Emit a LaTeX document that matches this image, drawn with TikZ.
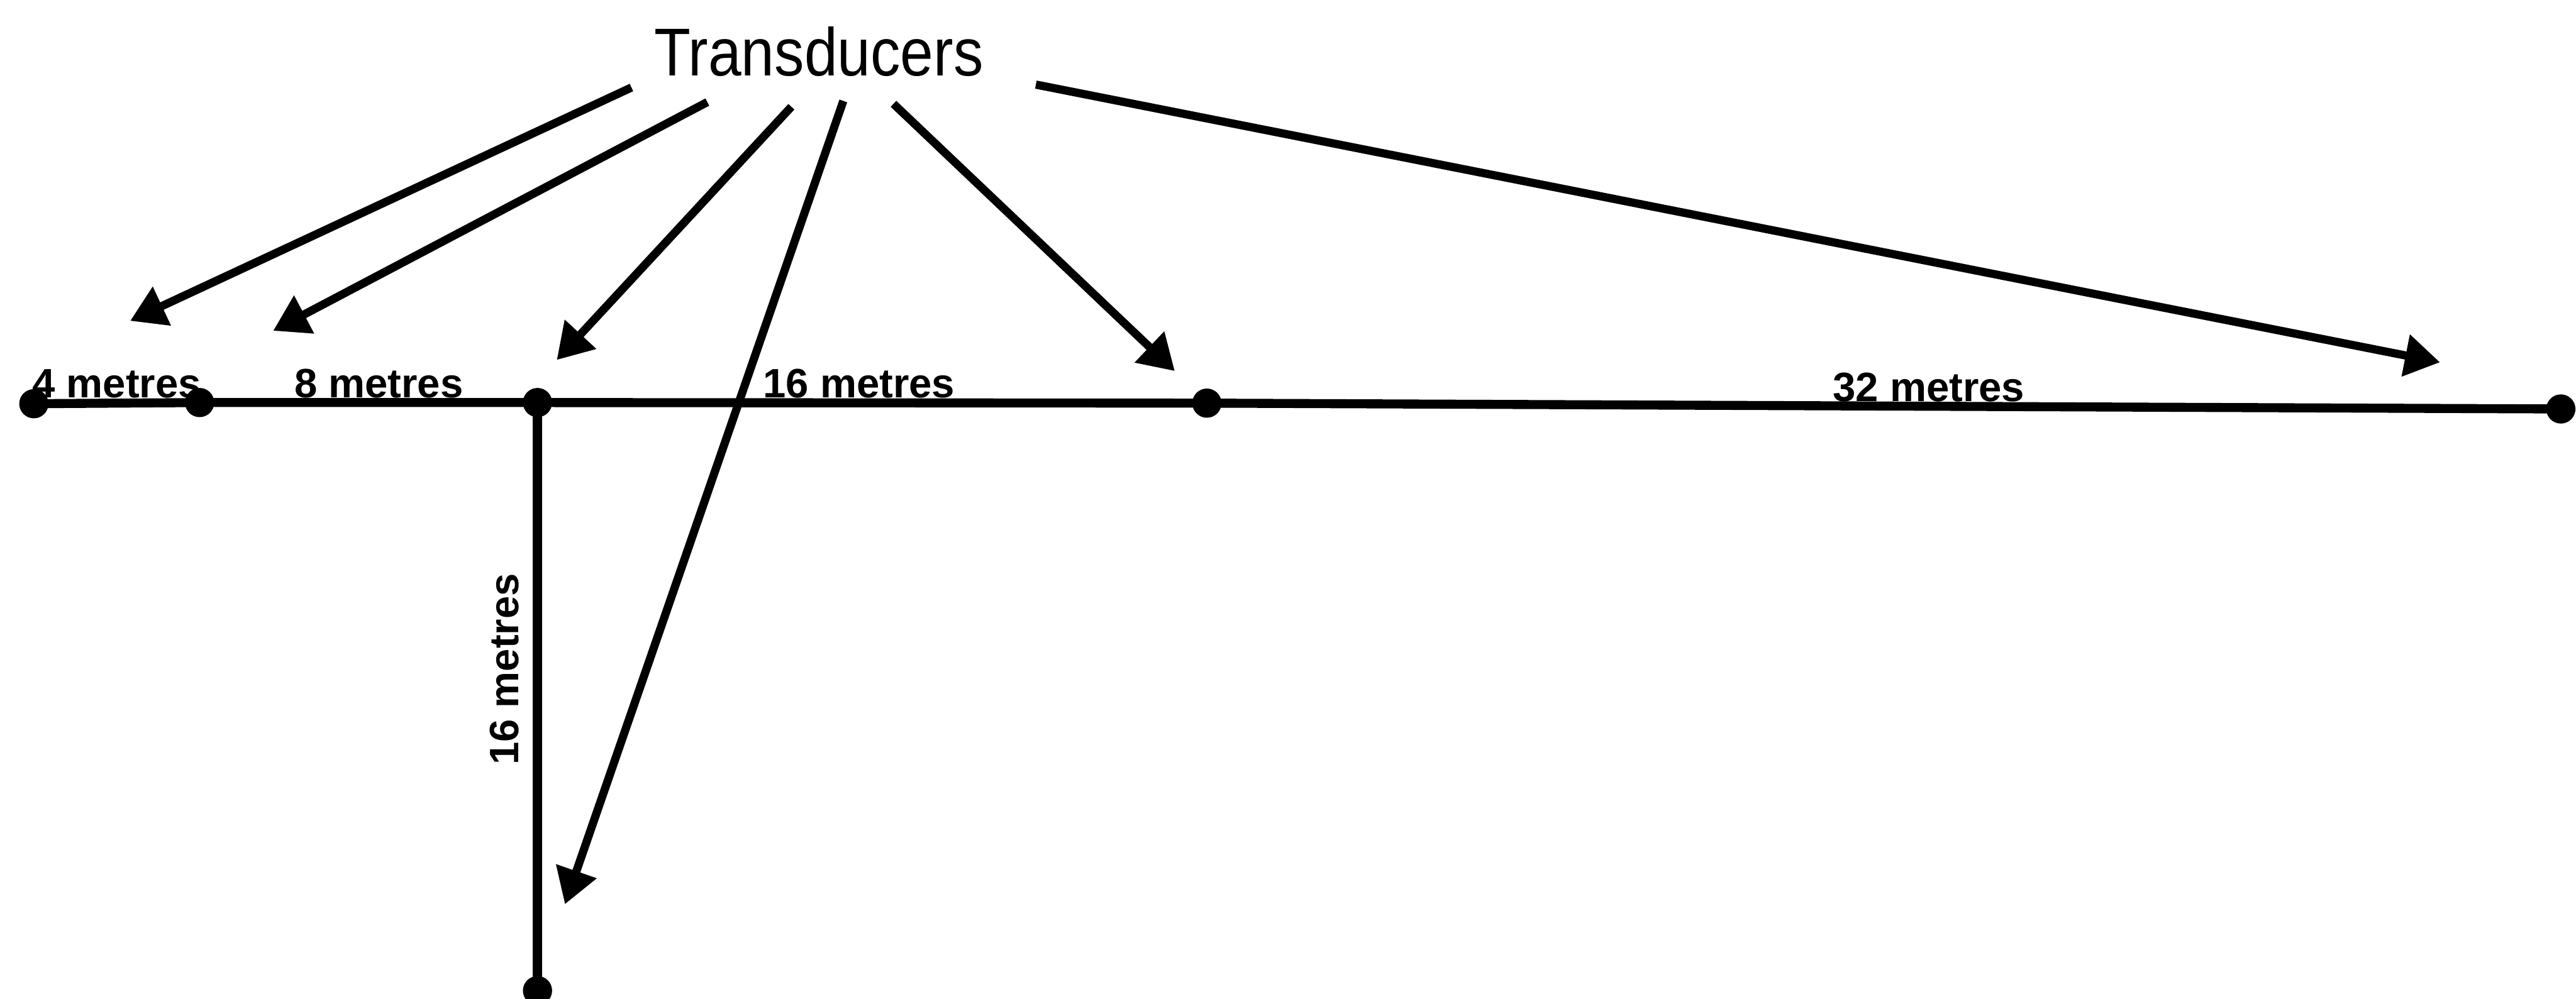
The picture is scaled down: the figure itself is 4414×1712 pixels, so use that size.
\documentclass[tikz,border=0pt]{standalone}
\usepackage{graphicx}
\usepackage{fontspec}
\setmainfont{Liberation Sans}
\usetikzlibrary{arrows.meta}
\begin{document}
\begin{tikzpicture}[x=0.01cm,y=-0.01cm,
  cable/.style={line width=4.4pt},
  pointer/.style={line width=4pt,-{Triangle[length=6mm,width=7mm]}},
  sensor/.style={circle,fill=black,inner sep=0pt,minimum size=5mm},
  dist/.style={font=\bfseries\fontsize{20}{24}\selectfont,inner sep=0pt,anchor=base},
  heading/.style={font=\fontsize{33}{40}\selectfont,inner sep=0pt,anchor=base}]
\useasboundingbox (0,0) rectangle (4414,1712);

% sensor positions along the cable
\node[sensor] (s1) at (58,692) {};
\node[sensor] (s2) at (342,690) {};
\node[sensor] (s3) at (921,690) {};
\node[sensor] (s4) at (2068,691) {};
\node[sensor] (s5) at (4388,701) {};
\node[sensor] (s6) at (921,1698) {};

% cable runs
\draw[cable] (s1.center) -- (s2.center) -- (s3.center) -- (s4.center) -- (s5.center);
\draw[cable] (s3.center) -- (s6.center);

% spacing labels
\node[dist] (l4)  at (200,682)  {4 metres};
\node[dist] (l8)  at (649,682)  {8 metres};
\node[dist] (l16) at (1472,682) {16 metres};
\node[dist] (l32) at (3305,688) {32 metres};
\node[dist,rotate=90] (lv) at (888,1147) {16 metres};

% heading
\node[heading] (title) at (1403,130) {\scalebox{0.88}[1]{Transducers}};

% pointer ends
\coordinate (p1) at (1082,150);  \coordinate (t1) at (223,550);
\coordinate (p2) at (1212,175);  \coordinate (t2) at (468,567);
\coordinate (p3) at (1356,183);  \coordinate (t3) at (954,617);
\coordinate (p4) at (1445,173);  \coordinate (t4) at (968,1550);
\coordinate (p5) at (1531,178);  \coordinate (t5) at (2013,636);
\coordinate (p6) at (1775,145);  \coordinate (t6) at (4181,621);

\draw[pointer] (p1) -- (t1);
\draw[pointer] (p2) -- (t2);
\draw[pointer] (p3) -- (t3);
\draw[pointer] (p4) -- (t4);
\draw[pointer] (p5) -- (t5);
\draw[pointer] (p6) -- (t6);
\end{tikzpicture}
\end{document}
